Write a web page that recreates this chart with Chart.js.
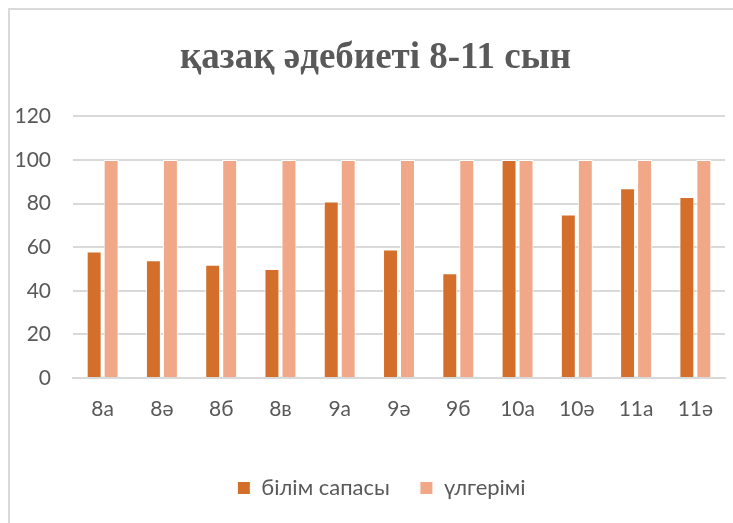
<!DOCTYPE html>
<html>
<head>
<meta charset="utf-8">
<script src="https://cdn.jsdelivr.net/npm/chart.js@4"></script>
<style>
  body { margin: 0; background: #fff; }
  #wrap { width: 733px; height: 523px; }
</style>
</head>
<body>
<div id="wrap"><canvas id="myChart" width="733" height="523"></canvas></div>
<script>
// data
var classes = ['8а', '8ә', '8б', '8в', '9а', '9ә', '9б', '10а', '10ә', '11а', '11ә'];
var bilimSapasy = [58, 54, 52, 50, 81, 59, 48, 100, 75, 87, 83];
var ulgerimi = [100, 100, 100, 100, 100, 100, 100, 100, 100, 100, 100];
var yTicks = [0, 20, 40, 60, 80, 100, 120];

// light grey chart frame, partly cut off on the right and bottom
var frame = {
  id: 'frame',
  afterLayout: function(chart) {
    // title and legend are centred on the frame, a bit right of the canvas centre
    if (chart.titleBlock) chart.titleBlock.left += 18;
    if (chart.legend) chart.legend.left += 30;
  },
  beforeDraw: function(chart) {
    var c = chart.ctx;
    c.save();
    c.fillStyle = '#fff';
    c.fillRect(0, 0, chart.width, chart.height);
    c.strokeStyle = '#d9d9d9';
    c.lineWidth = 2;
    c.strokeRect(9, 9, 800, 600);
    c.restore();
  }
};

const ctx = document.getElementById('myChart');
new Chart(ctx, {
  type: 'bar',
  data: {
    labels: classes,
    datasets: [{
      label: 'білім сапасы',
      data: bilimSapasy,
      backgroundColor: '#D36F2B',
      borderColor: '#ffffff',
      borderWidth: 1
    }, {
      label: 'үлгерімі',
      data: ulgerimi,
      backgroundColor: '#F1A889',
      borderColor: '#ffffff',
      borderWidth: 1
    }]
  },
  options: {
    responsive: false,
    animation: false,
    datasets: {
      bar: { categoryPercentage: 0.573, barPercentage: 0.88 }
    },
    layout: {
      padding: { left: 8, right: 8, top: 20, bottom: 14 }
    },
    plugins: {
      title: {
        display: true,
        text: 'қазақ әдебиеті 8-11 сын',
        color: '#595959',
        font: { family: 'Liberation Serif', size: 37, weight: 'bold' },
        padding: { top: 16, bottom: 36 }
      },
      legend: {
        position: 'bottom',
        labels: {
          color: '#595959',
          font: { family: 'Lato', size: 22 },
          boxWidth: 13,
          boxHeight: 13,
          padding: 30,
          useBorderRadius: false
        }
      },
      tooltip: { enabled: false }
    },
    scales: {
      x: {
        grid: { display: false },
        border: { color: '#d9d9d9', width: 2 },
        ticks: {
          color: '#595959',
          font: { family: 'Lato', size: 21 },
          padding: 11
        },
        afterFit: function(axis) {
          axis.height = 69;
        }
      },
      y: {
        min: 0,
        max: 120,
        afterBuildTicks: function(axis) {
          axis.ticks = yTicks.map(function(v) { return { value: v }; });
        },
        afterFit: function(axis) {
          axis.width = 65;
        },
        grid: { color: '#d9d9d9', lineWidth: 2, drawTicks: false },
        border: { display: false },
        ticks: {
          color: '#595959',
          font: { family: 'Lato', size: 21 },
          padding: 22
        }
      }
    }
  },
  plugins: [frame]
});
</script>
</body>
</html>
